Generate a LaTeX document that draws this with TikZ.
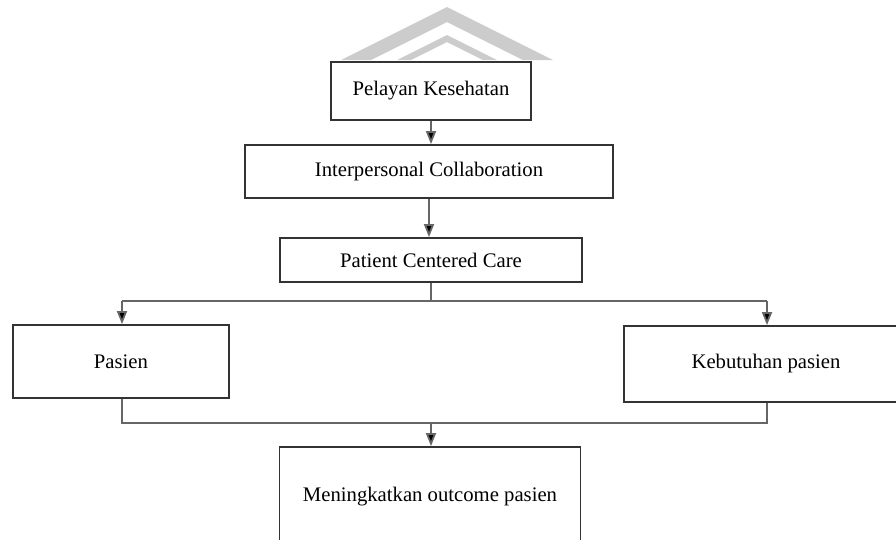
\documentclass[tikz,border=0pt]{standalone}
\usepackage{fontspec}
\setmainfont{Liberation Serif}
\usetikzlibrary{arrows.meta}
\begin{document}
\begin{tikzpicture}[x=1pt,y=-1pt,
  box/.style={draw=black!80,line width=1.8pt,fill=white,rectangle,inner sep=0pt,
    font=\fontsize{20.7}{24}\selectfont,text=black},
  conn/.style={draw=black!60,line width=1.8pt},
  arr/.style={conn,-{Triangle[length=13pt,width=10pt,fill=black]}},
  wm/.style={fill=black!20,draw=none}]
\useasboundingbox (0,0) rectangle (896,539);
\clip (0,0) rectangle (896,539);
% watermark
\fill[wm] (447,7) -- (553,60) -- (523,60) -- (447,22) -- (371,60) -- (341,60) -- cycle;
\fill[wm] (447,35) -- (497,60) -- (483,60) -- (447,42) -- (411,60) -- (397,60) -- cycle;
% boxes
\node[box,minimum width=200pt,minimum height=58pt] (b1) at (431,91) {Pelayan Kesehatan};
\node[box,minimum width=368pt,minimum height=53pt] (b2) at (429,171.5) {Interpersonal Collaboration};
\node[box,minimum width=302pt,minimum height=44pt] (b3) at (431,260) {Patient Centered Care};
\node[box,minimum width=216pt,minimum height=73pt] (pa) at (121,361.5) {Pasien};
\node[box,minimum width=284pt,minimum height=76pt] (kb) at (766,364) {Kebutuhan pasien};
\node[box,minimum width=301pt,minimum height=100pt] (mo) at (430,497) {Meningkatkan outcome pasien};
\coordinate (jl) at (122,301);
\coordinate (jr) at (767,301);
\coordinate (k1) at (122,423);
\coordinate (k2) at (767,423);
\coordinate (km) at (431,423);
% connectors
\draw[arr] (b1.south) -- (b1.south |- b2.north);
\draw[arr] (b2.south) -- (b2.south |- b3.north);
\draw[conn] (b3.south) -- (b3.south |- jl);
\draw[conn] (jl) -- (jr);
\draw[arr] (jl) -- (jl |- pa.north);
\draw[arr] (jr) -- (jr |- kb.north);
\draw[conn] (pa.south -| k1) -- (k1) -- (k2) -- (kb.south -| k2);
\draw[arr] (km) -- (km |- mo.north);
\end{tikzpicture}
\end{document}
